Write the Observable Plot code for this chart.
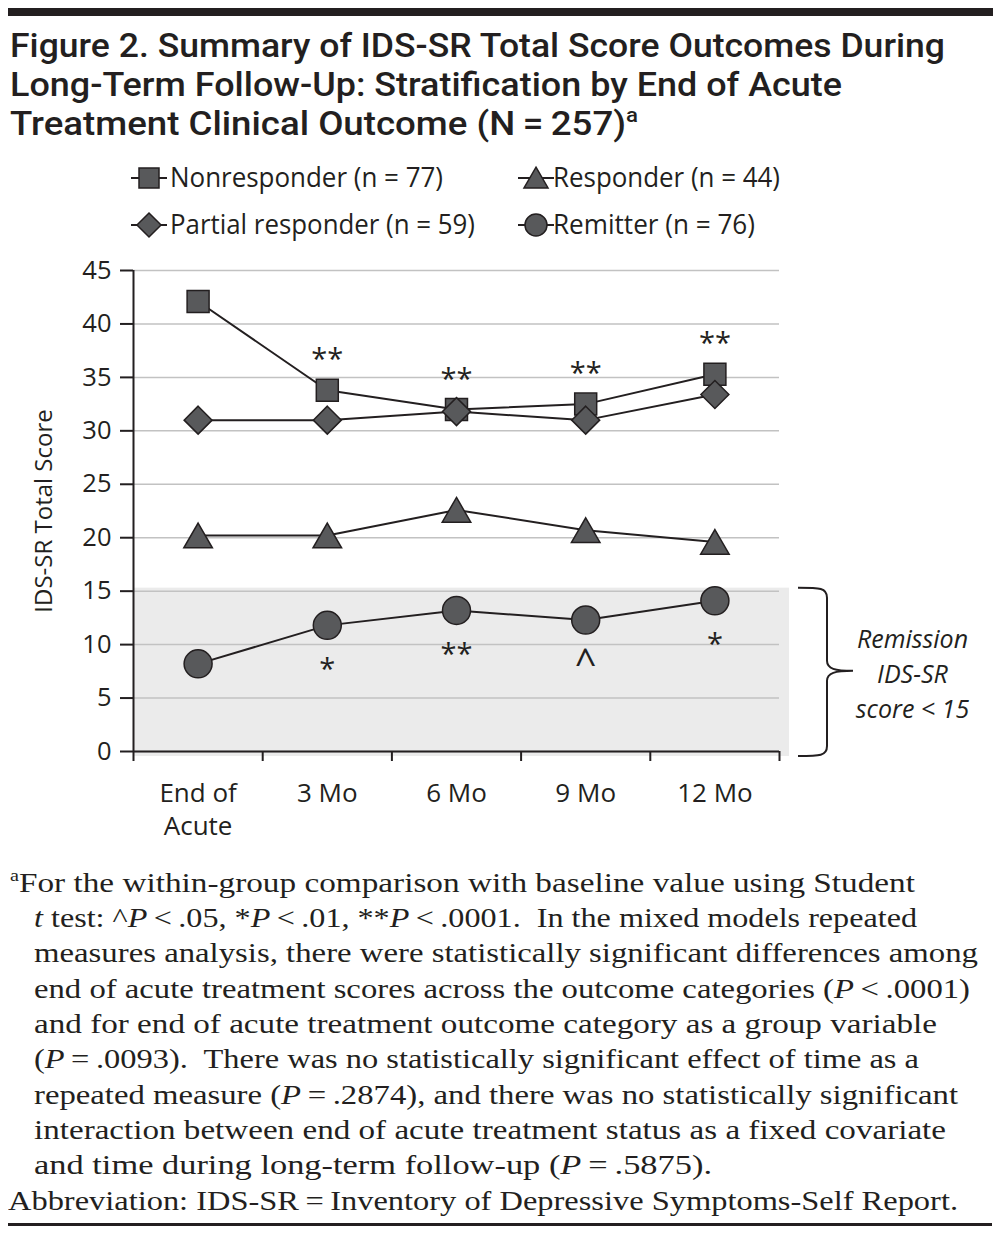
<!DOCTYPE html>
<html>
<head>
<meta charset="utf-8">
<script src="https://cdn.jsdelivr.net/npm/d3@7"></script>
<script src="https://cdn.jsdelivr.net/npm/@observablehq/plot@0.6"></script>
<style>
  body { margin: 0; background: #fff; }
  #page { position: relative; width: 1001px; height: 1234px; overflow: hidden; background: #fff; color: #231f20; font-family: "Open Sans", sans-serif; }
  .rule { position: absolute; background: #231f20; }
  .tl { position: absolute; left: 10px; font-family: Roboto, "Open Sans", sans-serif; font-weight: 500; font-size: 33px; line-height: 1; white-space: nowrap; transform-origin: 0 0; }
  .tl sup { font-size: 20px; vertical-align: 0; position: relative; top: -13px; line-height: 0; }
  .lg { position: absolute; font-size: 26.5px; line-height: 1; white-space: nowrap; transform-origin: 0 0; }
  .ic { position: absolute; }
  .fn { position: absolute; font-family: "Liberation Serif", serif; font-size: 28px; line-height: 1; white-space: nowrap; transform-origin: 0 0; }
  .fn sup { font-size: 17px; vertical-align: 0; position: relative; top: -11px; line-height: 0; }
  #chart { position: absolute; left: 0; top: 255px; }
</style>
</head>
<body>
<div id="page">
  <div class="rule" style="left:8px; top:8px; width:985px; height:8px;"></div>
  <div id="titles"></div>
  <div id="legend"></div>
  <div id="chart"></div>
  <div id="notes"></div>
  <div class="rule" style="left:8px; top:1223px; width:984px; height:2.5px;"></div>
</div>
<script>
// ---------------- data ----------------
const categories = ["End of\nAcute", "3 Mo", "6 Mo", "9 Mo", "12 Mo"];
const seriesNames = ["Nonresponder (n = 77)", "Partial responder (n = 59)", "Responder (n = 44)", "Remitter (n = 76)"];
const nonresponder = [42.1, 33.8, 32.0, 32.5, 35.3];
const partialResponder = [31.0, 31.0, 31.8, 31.0, 33.4];
const responder = [20.2, 20.2, 22.6, 20.7, 19.6];
const remitter = [8.2, 11.8, 13.2, 12.3, 14.1];
const nonresponderSig = ["", "**", "**", "**", "**"];
const remitterSig = ["", "*", "**", "^", "*"];
const yTicks = [0, 5, 10, 15, 20, 25, 30, 35, 40, 45];
const yLabel = "IDS-SR Total Score";
const remissionCutoff = 15;
const remissionLabel = "Remission\nIDS-SR\nscore < 15";

const titleLines = [
  "Figure 2. Summary of IDS-SR Total Score Outcomes During",
  "Long-Term Follow-Up: Stratification by End of Acute",
  "Treatment Clinical Outcome (N\u2009=\u2009257)<sup>a</sup>"
];
const noteLines = [
  "<sup>a</sup>For the within-group comparison with baseline value using Student",
  "<i>t</i> test: ^<i>P</i>\u2009&lt;\u2009.05, *<i>P</i>\u2009&lt;\u2009.01, **<i>P</i>\u2009&lt;\u2009.0001.&nbsp; In the mixed models repeated",
  "measures analysis, there were statistically significant differences among",
  "end of acute treatment scores across the outcome categories (<i>P</i>\u2009&lt;\u2009.0001)",
  "and for end of acute treatment outcome category as a group variable",
  "(<i>P</i>\u2009=\u2009.0093).&nbsp; There was no statistically significant effect of time as a",
  "repeated measure (<i>P</i>\u2009=\u2009.2874), and there was no statistically significant",
  "interaction between end of acute treatment status as a fixed covariate",
  "and time during long-term follow-up (<i>P</i>\u2009=\u2009.5875).",
  "Abbreviation: IDS-SR\u2009=\u2009Inventory of Depressive Symptoms-Self Report."
];

// ---------------- layout helpers ----------------
function naturalWidth(el) { return el.getBoundingClientRect().width; }
function fitWidth(el, target) {
  const w = naturalWidth(el);
  if (w > 0) el.style.transform = `scaleX(${target / w})`;
}

// Title
const titleTops = [29, 68, 107];
const titleWidths = [935, 832, 628];
const titles = document.getElementById("titles");
titleLines.forEach((t, i) => {
  const d = document.createElement("div");
  d.className = "tl";
  d.style.top = titleTops[i] + "px";
  d.innerHTML = t;
  titles.appendChild(d);
  fitWidth(d, titleWidths[i]);
});

// Legend
const symbolsBySeries = ["square", "diamond2", "triangle", "circle"];
const legendPos = [
  {cx: 149, cy: 178, tx: 170, w: 273},
  {cx: 149, cy: 225, tx: 170, w: 305},
  {cx: 536, cy: 178, tx: 553, w: 227},
  {cx: 536, cy: 225, tx: 553, w: 202}
];
const legendSym = {
  square: d3.symbol(d3.symbolSquare, 400),
  diamond2: d3.symbol(d3.symbolDiamond2, 370),
  triangle: d3.symbol(d3.symbolTriangle, 250),
  circle: d3.symbol(d3.symbolCircle, 380)
};
const legend = document.getElementById("legend");
seriesNames.forEach((name, i) => {
  const p = legendPos[i];
  const svg = d3.create("svg").attr("class", "ic").attr("width", 44).attr("height", 34)
    .style("left", (p.cx - 22) + "px").style("top", (p.cy - 17) + "px");
  svg.append("line").attr("x1", 4).attr("x2", 40).attr("y1", 17).attr("y2", 17)
    .attr("stroke", "#231f20").attr("stroke-width", 2);
  const s = symbolsBySeries[i];
  svg.append("path").attr("d", legendSym[s]())
    .attr("transform", `translate(22,${s === "triangle" ? 20 : 17})`)
    .attr("fill", "#58595b").attr("stroke", "#231f20").attr("stroke-width", 1.5);
  legend.appendChild(svg.node());
  const d = document.createElement("div");
  d.className = "lg";
  d.textContent = name;
  d.style.left = p.tx + "px";
  d.style.top = (p.cy - 14.5) + "px";
  legend.appendChild(d);
  fitWidth(d, p.w);
});

// Footnote
const notes = document.getElementById("notes");
const noteLeft = [10, 34, 34, 34, 34, 34, 34, 34, 34, 8];
const noteWidths = [905, 883, 944, 936, 903, 885, 924, 912, 678, 950];
noteLines.forEach((t, i) => {
  const d = document.createElement("div");
  d.className = "fn";
  d.innerHTML = t;
  d.style.left = noteLeft[i] + "px";
  d.style.top = (868.5 + i * 35.35) + "px";
  notes.appendChild(d);
  fitWidth(d, noteWidths[i]);
});

// ---------------- chart data table ----------------
const seriesValues = [nonresponder, partialResponder, responder, remitter];
const rows = [];
seriesValues.forEach((vals, s) => {
  vals.forEach((v, i) => rows.push({series: seriesNames[s], xi: i + 0.5, value: v}));
});
const sigRowsTop = nonresponderSig.map((t, i) => ({xi: i + 0.5, value: nonresponder[i], text: t})).filter(d => d.text);
const sigRowsBottom = remitterSig.map((t, i) => ({xi: i + 0.5, value: remitter[i], text: t})).filter(d => d.text);

const markerR = {square: 12.4, diamond2: 12.6, triangle: 10.6, circle: 14};
const ink = "#231f20";
const seriesMarks = seriesNames.flatMap((name, s) => {
  const data = rows.filter(d => d.series === name);
  const sym = symbolsBySeries[s];
  return [
    Plot.line(data, {x: "xi", y: "value", stroke: ink, strokeWidth: 2}),
    Plot.dot(data, {x: "xi", y: "value", symbol: () => sym, r: markerR[sym], fill: "#58595b", stroke: ink, strokeWidth: 1.5, dy: sym === "triangle" ? 4 : 0})
  ];
});

const chart = Plot.plot({
  width: 1001,
  height: 600,
  marginTop: 15,
  marginBottom: 104,
  marginLeft: 133,
  marginRight: 222,
  style: {fontFamily: "Open Sans, sans-serif", color: ink, background: "transparent", overflow: "visible"},
  x: {type: "linear", domain: [0, categories.length], axis: null},
  y: {domain: [0, 45], axis: null},
  symbol: {type: "identity"},
  marks: [
    Plot.rectY([remissionCutoff], {y1: 0, y2: d => d, fill: "#ebebeb", insetTop: -3, insetRight: -10, insetBottom: -5}),
    Plot.gridY(yTicks, {stroke: "#c2c2c2", strokeOpacity: 1, strokeWidth: 1.5}),
    Plot.ruleY([0], {stroke: ink, strokeWidth: 2}),
    Plot.ruleX([0], {stroke: ink, strokeWidth: 2}),
    Plot.axisY(yTicks, {tickSize: 13, tickPadding: 9, fontSize: 25.5, strokeWidth: 2, label: null}),
    Plot.axisX(d3.range(categories.length + 1), {tickSize: 10, tickFormat: () => "", strokeWidth: 2, label: null}),
    Plot.axisX(categories.map((_, i) => i + 0.5), {tickSize: 0, tickPadding: 27, fontSize: 26, lineHeight: 1.27, tickFormat: v => categories[Math.floor(v)], label: null}),
    Plot.text([yLabel], {frameAnchor: "left", textAnchor: "middle", rotate: -90, dx: -89, fontSize: 24, fill: ink}),
    ...seriesMarks,
    Plot.text(sigRowsTop, {x: "xi", y: "value", text: "text", dy: -30, fontSize: 29, fill: ink}),
    Plot.text(sigRowsBottom, {x: "xi", y: "value", text: "text", dy: 44, fontSize: d => d.text === "^" ? 38 : 29, fill: ink}),
    Plot.text([remissionLabel], {y: () => remissionCutoff / 2, frameAnchor: "right", textAnchor: "middle", dx: 133, fontSize: 25, fontStyle: "italic", lineHeight: 1.4, fill: ink})
  ]
});

// Remission brace, positioned from the chart's own scales
const ys = chart.scale("y"), xs = chart.scale("x");
const xRight = xs.apply(categories.length);
const yTop = ys.apply(remissionCutoff) - 3, yBot = ys.apply(0) + 5, yMid = ys.apply(remissionCutoff / 2);
const a = xRight + 19, m = xRight + 48, tip = xRight + 74;
const braceD = `M${a},${yTop} C${a + 22},${yTop} ${m},${yTop} ${m},${yTop + 10} L${m},${yMid - 10} C${m},${yMid - 2} ${m + 8},${yMid} ${tip},${yMid} C${m + 8},${yMid} ${m},${yMid + 2} ${m},${yMid + 10} L${m},${yBot - 10} C${m},${yBot} ${a + 22},${yBot} ${a},${yBot}`;
d3.select(chart).append("path").attr("d", braceD).attr("fill", "none").attr("stroke", ink).attr("stroke-width", 2);

document.getElementById("chart").appendChild(chart);
</script>
</body>
</html>
